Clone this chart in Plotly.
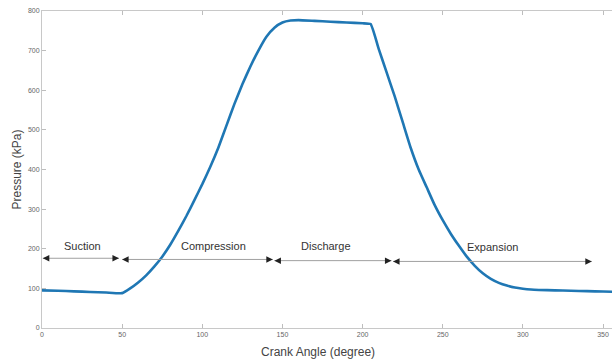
import plotly.graph_objects as go

# Pressure curve (crank angle in degrees, pressure in kPa)
crank_angle = [0, 10, 20, 30, 40, 50, 55, 60, 65, 70, 75, 80, 85, 90, 95, 100, 105, 110,
               115, 120, 125, 130, 135, 140, 145, 150, 155, 160, 170, 180, 190, 200, 205,
               210, 215, 220, 225, 230, 235, 240, 245, 250, 255, 260, 265, 270, 275, 280,
               285, 290, 295, 300, 305, 310, 320, 330, 340, 350, 360]
pressure = [95, 94, 92.5, 91, 89.5, 88, 100, 115, 133, 155, 180, 210, 245, 282, 322, 363,
            407, 455, 510, 565, 615, 660, 700, 735, 758, 771, 776, 777, 775, 773, 771, 769, 767,
            705, 645, 585, 520, 455, 400, 355, 310, 272, 238, 208, 180, 157, 138, 124,
            114, 107, 102, 99, 97, 96, 95, 94, 93, 92, 91]

# Phase arrows
phase_names = ["Suction", "Compression", "Discharge", "Expansion"]
phase_start = [0.5, 50, 145, 219]
phase_end = [48, 144, 218, 343]
arrow_y = [176, 173, 170, 168]
label_x = [25, 107, 177, 281]
label_y = [208, 208, 206, 205]

x_ticks = [0, 50, 100, 150, 200, 250, 300, 350]
y_ticks = [0, 100, 200, 300, 400, 500, 600, 700, 800]

fig = go.Figure()
fig.add_trace(go.Scatter(x=crank_angle, y=pressure, mode="lines",
                         line=dict(color="#1f77b4", width=2.6, shape="spline", smoothing=0.4),
                         showlegend=False, cliponaxis=True))

for name, x0, x1, y, lx, ly in zip(phase_names, phase_start, phase_end, arrow_y, label_x, label_y):
    fig.add_shape(type="line", x0=x0, x1=x1, y0=y, y1=y, xref="x", yref="y",
                  line=dict(color="#a0a0a0", width=1))
    for tip, tail in ((x1, x1 - 4), (x0, x0 + 4)):
        fig.add_annotation(x=tip, y=y, ax=tail, ay=y, axref="x", ayref="y",
                           xref="x", yref="y", text="", showarrow=True,
                           arrowhead=2, arrowsize=1.3, arrowwidth=1, arrowcolor="#222")
    fig.add_annotation(x=lx, y=ly, text=name, showarrow=False, xref="x", yref="y",
                       font=dict(family="Liberation Sans, Arial", size=11, color="#333"))

# Axis titles
fig.add_annotation(x=0.485, y=0, xref="paper", yref="paper", yshift=-24,
                   xanchor="center", yanchor="middle",
                   text="Crank Angle (degree)", showarrow=False,
                   font=dict(family="Liberation Sans, Arial", size=12, color="#444"))
fig.add_annotation(x=0, y=0.5, xref="paper", yref="paper", xshift=-26, textangle=-90,
                   xanchor="center", yanchor="middle",
                   text="Pressure (kPa)", showarrow=False,
                   font=dict(family="Liberation Sans, Arial", size=12, color="#444"))

axis_common = dict(showgrid=False, zeroline=False, showline=True, linecolor="#c8c8c8",
                   linewidth=1, ticks="inside", ticklen=4, tickcolor="#bdbdbd",
                   automargin=False, ticklabeloverflow="allow",
                   tickfont=dict(family="Liberation Sans, Arial", size=7, color="#666"))
fig.update_xaxes(range=[0, 355.6], tickvals=x_ticks, mirror="ticks", **axis_common)
fig.update_yaxes(range=[0, 800], tickvals=y_ticks, mirror=False, **axis_common)

fig.update_layout(width=612, height=359, margin=dict(l=42, r=0, t=11, b=31),
                  plot_bgcolor="white", paper_bgcolor="white")
fig.write_html("out.html", config={"displayModeBar": False},
               post_script="document.body.style.margin='0';document.body.style.overflow='hidden';")
